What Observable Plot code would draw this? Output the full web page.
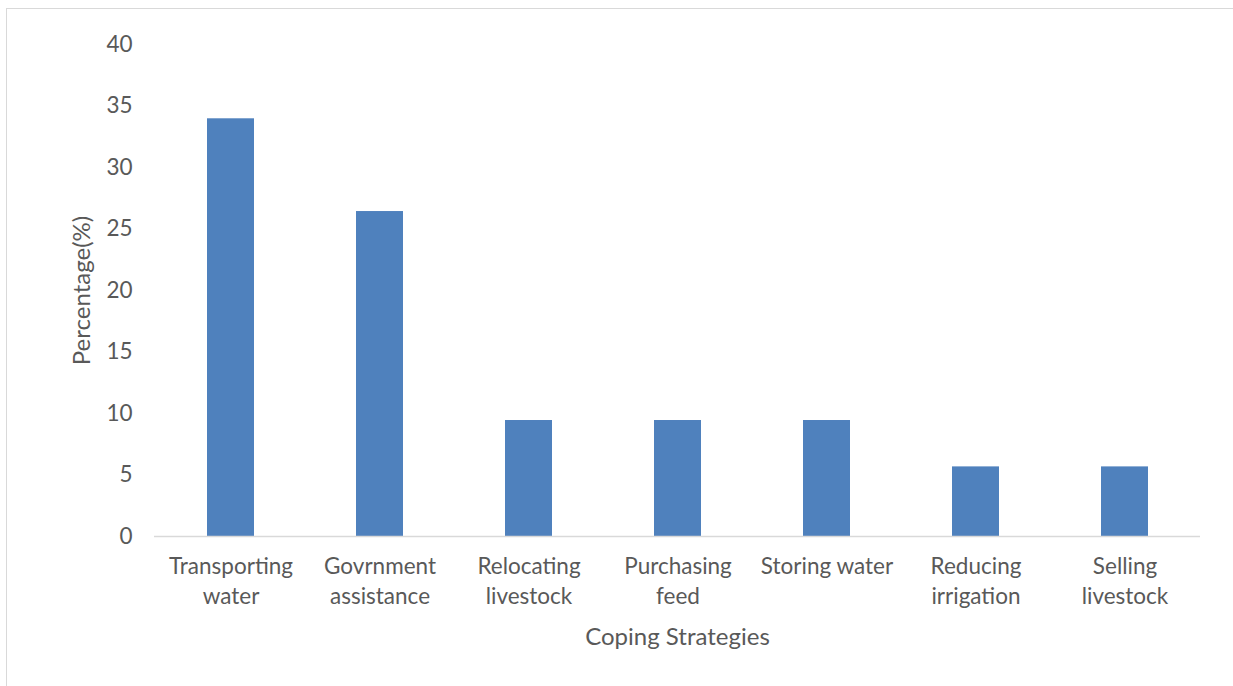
<!DOCTYPE html>
<html>
<head>
<meta charset="utf-8">
<script src="https://cdn.jsdelivr.net/npm/d3@7"></script>
<script src="https://cdn.jsdelivr.net/npm/@observablehq/plot@0.6"></script>
<style>
  html, body { margin: 0; padding: 0; background: #fff; }
  #wrap { position: relative; width: 1233px; height: 686px; overflow: hidden; }
  #frame { position: absolute; left: 6px; top: 8px; width: 1240px; height: 700px;
           border-left: 1.5px solid #d9d9d9; border-top: 1.5px solid #d9d9d9; box-sizing: border-box; }
  #chart { position: absolute; left: 0; top: 0; }
  g[aria-label="x-axis label"], g[aria-label="y-axis label"] { font-size: 24px; }
  g[aria-label="x-axis label"] text, g[aria-label="y-axis label"] text { font-size: 24px; }
</style>
</head>
<body>
<div id="wrap"><div id="frame"></div><div id="chart"></div></div>
<script>
const categories = [
  "Transporting\nwater",
  "Govrnment\nassistance",
  "Relocating\nlivestock",
  "Purchasing\nfeed",
  "Storing water",
  "Reducing\nirrigation",
  "Selling\nlivestock"
];
const percentages = [33.96, 26.42, 9.43, 9.43, 9.43, 5.66, 5.66];
const yTicks = [0, 5, 10, 15, 20, 25, 30, 35, 40];
const xTitle = "Coping Strategies";
const yTitle = "Percentage(%)";

const data = categories.map((c, i) => ({category: c, value: percentages[i]}));

const chart = Plot.plot({
  width: 1233,
  height: 686,
  marginLeft: 154,
  marginRight: 33,
  marginTop: 44,
  marginBottom: 150,
  style: {fontFamily: "Lato, 'Open Sans', sans-serif", fontSize: "22.5px", color: "#595959", background: "transparent"},
  x: {domain: categories, paddingInner: 0.6865, paddingOuter: 0.343, align: 0.5},
  y: {domain: [0, 40]},
  marks: [
    Plot.axisY({ticks: yTicks, tickSize: 0, tickPadding: 22, fontSize: 22.5, fill: "#595959",
      label: yTitle, labelAnchor: "center", labelArrow: "none", labelOffset: 82}),
    Plot.axisX({tickSize: 0, tickPadding: 17, fontSize: 22.5, fill: "#595959", lineHeight: 1.3,
      label: xTitle, labelAnchor: "center", labelArrow: "none", labelOffset: 108}),
    Plot.barY(data, {x: "category", y: "value", fill: "#4F81BD"}),
    Plot.ruleY([0], {stroke: "#d9d9d9", strokeWidth: 1.5})
  ]
});
document.getElementById("chart").appendChild(chart);
</script>
</body>
</html>
